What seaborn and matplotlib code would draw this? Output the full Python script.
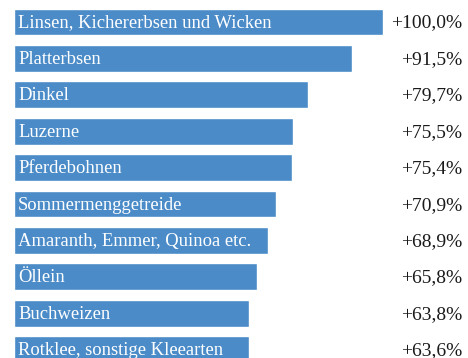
import matplotlib

matplotlib.use("Agg")
import matplotlib.pyplot as plt
import seaborn as sns
import pandas as pd

categories = [
    "Linsen, Kichererbsen und Wicken",
    "Platterbsen",
    "Dinkel",
    "Luzerne",
    "Pferdebohnen",
    "Sommermenggetreide",
    "Amaranth, Emmer, Quinoa etc.",
    "Öllein",
    "Buchweizen",
    "Rotklee, sonstige Kleearten",
]
values = [100.0, 91.5, 79.7, 75.5, 75.4, 70.9, 68.9, 65.8, 63.8, 63.6]
value_labels = ["+100,0%", "+91,5%", "+79,7%", "+75,5%", "+75,4%",
                "+70,9%", "+68,9%", "+65,8%", "+63,8%", "+63,6%"]

df = pd.DataFrame({"kultur": categories, "wert": values})

sns.set_style("white")
plt.rcParams["font.family"] = ["Liberation Serif", "DejaVu Serif"]

fig = plt.figure(figsize=(4.68, 3.58), dpi=100)
ax = fig.add_axes([14 / 468, 0, 454 / 468, 1])

sns.barplot(data=df, x="wert", y="kultur", color="#4a8bc8", saturation=1,
            width=0.74, orient="h", ax=ax)

ax.set_xlim(0, 123.0)
ax.set_ylim(9.23, -0.604)

for i, (cat, lab) in enumerate(zip(categories, value_labels)):
    ax.text(1.1, i + 0.03, cat, color="white", fontsize=13.4,
            ha="left", va="center")
    ax.text(121.4, i + 0.03, lab, color="#1a1a1a", fontsize=14,
            ha="right", va="center")

ax.set_axis_off()
fig.savefig("out.png", dpi=100, facecolor="white")
